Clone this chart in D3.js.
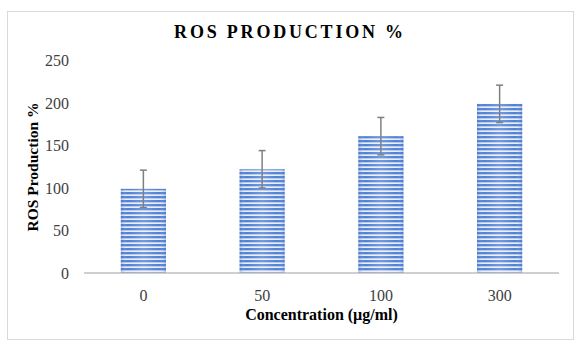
<!DOCTYPE html>
<html><head><meta charset="utf-8">
<script src="https://cdn.jsdelivr.net/npm/d3@7/dist/d3.min.js"></script>
<style>body{margin:0;background:#fff}svg{display:block}</style>
</head><body>
<script>
const categories = ["0", "50", "100", "300"];
const values = [99, 122, 161, 199];
const errors = [22, 22, 22, 22];
const yTicks = [0, 50, 100, 150, 200, 250];
const title = "ROS PRODUCTION %";
const xTitle = "Concentration (µg/ml)";
const yTitle = "ROS Production %";

(function () {
const W = 582, H = 346;
const serif = "'Liberation Serif', 'Times New Roman', serif";
const svg = d3.select("body").append("svg").attr("width", W).attr("height", H);
const defs = svg.append("defs");
const pat = defs.append("pattern").attr("id", "stripes").attr("patternUnits", "userSpaceOnUse")
  .attr("width", 8).attr("height", 4);
pat.append("rect").attr("width", 8).attr("height", 4).attr("fill", "#e9eef8");
pat.append("rect").attr("y", 0).attr("width", 8).attr("height", 2).attr("fill", "#5081d6");
pat.append("rect").attr("y", 2).attr("width", 8).attr("height", 1).attr("fill", "#b6c8ea");
const grad = defs.append("linearGradient").attr("id", "shade").attr("x1", "0").attr("x2", "1").attr("y1", "0").attr("y2", "0");
grad.append("stop").attr("offset", "0").attr("stop-color", "#2f5fb8").attr("stop-opacity", 0.3);
grad.append("stop").attr("offset", "0.15").attr("stop-color", "#ffffff").attr("stop-opacity", 0.0);
grad.append("stop").attr("offset", "0.5").attr("stop-color", "#ffffff").attr("stop-opacity", 0.2);
grad.append("stop").attr("offset", "0.85").attr("stop-color", "#ffffff").attr("stop-opacity", 0.0);
grad.append("stop").attr("offset", "1").attr("stop-color", "#2f5fb8").attr("stop-opacity", 0.3);

// chart border
svg.append("rect").attr("x", 7.5).attr("y", 11.5).attr("width", 566).attr("height", 328)
  .attr("fill", "none").attr("stroke", "#d9d9d9").attr("stroke-width", 1);

const pl = 84, pr = 559, pt = 60.5, pb = 273;
const x = d3.scaleBand().domain(categories).range([pl, pr]).paddingInner(0.62).paddingOuter(0.31);
const y = d3.scaleLinear().domain([0, 250]).range([pb, pt]);

// bars
const bars = svg.append("g");
bars.selectAll("rect.b").data(values).join("rect").attr("class", "b")
  .attr("x", (d, i) => x(categories[i])).attr("width", x.bandwidth())
  .attr("y", d => y(d)).attr("height", d => pb - y(d)).attr("fill", "url(#stripes)");
bars.selectAll("rect.s").data(values).join("rect").attr("class", "s")
  .attr("x", (d, i) => x(categories[i])).attr("width", x.bandwidth())
  .attr("y", d => y(d)).attr("height", d => pb - y(d)).attr("fill", "url(#shade)");

// y axis (labels only)
const yAxis = svg.append("g").attr("transform", `translate(${pl},0)`)
  .call(d3.axisLeft(y).tickValues(yTicks).tickSize(0).tickPadding(15));
yAxis.select(".domain").remove();
yAxis.selectAll("text").attr("font-family", serif)
  .attr("font-size", 16).attr("fill", "#404040");

// x axis
const xAxis = svg.append("g").attr("transform", `translate(0,${pb})`)
  .call(d3.axisBottom(x).tickSize(0).tickPadding(17));
xAxis.select(".domain").attr("stroke", "#bfbfbf").attr("stroke-width", 1.5)
  .attr("d", `M${pl},0H${pr}`);
xAxis.selectAll("text").attr("font-family", serif)
  .attr("font-size", 16).attr("fill", "#404040");

// error bars
const eb = svg.append("g").attr("stroke", "#7f7f7f").attr("stroke-width", 1.5);
values.forEach((v, i) => {
  const cx = x(categories[i]) + x.bandwidth() / 2;
  eb.append("line").attr("x1", cx).attr("x2", cx).attr("y1", y(v + errors[i])).attr("y2", y(v - errors[i]));
  eb.append("line").attr("x1", cx - 3.5).attr("x2", cx + 3.5).attr("y1", y(v + errors[i])).attr("y2", y(v + errors[i]));
  eb.append("line").attr("x1", cx - 3.5).attr("x2", cx + 3.5).attr("y1", y(v - errors[i])).attr("y2", y(v - errors[i]));
});

// titles
svg.append("text").attr("x", 290).attr("y", 38).attr("text-anchor", "middle")
  .attr("font-family", serif).attr("font-weight", "bold")
  .attr("font-size", 18).attr("letter-spacing", 2.8).attr("fill", "#000").text(title);
svg.append("text").attr("x", (pl + pr) / 2).attr("y", 320).attr("text-anchor", "middle")
  .attr("font-family", serif).attr("font-weight", "bold")
  .attr("font-size", 16).attr("fill", "#000").text(xTitle);
svg.append("text").attr("transform", "translate(38,167) rotate(-90)").attr("text-anchor", "middle")
  .attr("font-family", serif).attr("font-weight", "bold")
  .attr("font-size", 15.5).attr("fill", "#000").text(yTitle);
})();
</script>
</body></html>
